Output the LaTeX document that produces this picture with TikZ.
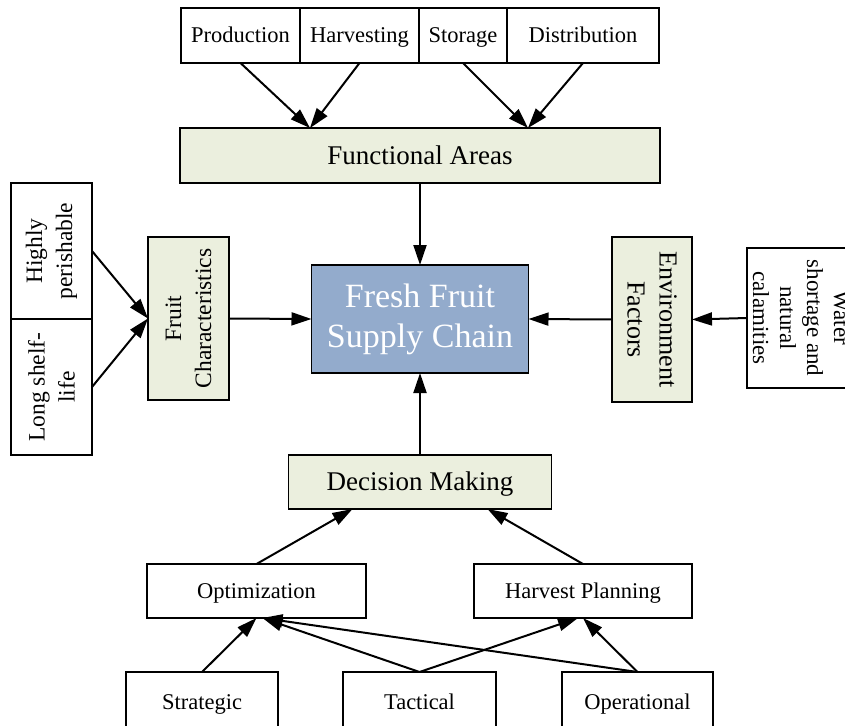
\documentclass[tikz,border=0pt]{standalone}
\usepackage{fontspec}
\setmainfont{Liberation Serif}
\usepackage{xcolor}
\usepackage{tikz}
\usetikzlibrary{positioning,shapes,arrows,arrows.meta}
\definecolor{areagreen}{RGB}{235,239,222}
\definecolor{chainblue}{RGB}{147,171,204}
\tikzset{
    box/.style={
        rectangle,
        draw=black,
        line width=1.5pt,
        outer sep=0pt,
        inner sep=2pt,
        align=center,
        font=\fontsize{22.5}{27}\selectfont
    },
    oneline/.style={
        text height=17pt,
        text depth=2pt
    },
    area/.style={
        box,
        fill=areagreen
    },
    arrow/.style={
        -{Triangle[length=20pt,width=13pt]},
        line width=2pt
    }
}

\begin{document}
\begin{tikzpicture}[x=1pt,y=-1pt]
          \useasboundingbox (0,0) rectangle (845,725);
          \clip (0,0) rectangle (845,725);
          % top row
          \node (prod) [box, oneline, minimum width=119pt, minimum height=55pt] at (240.5,35.5) {Production};
          \node (harv) [box, oneline, minimum width=119pt, minimum height=55pt, right=0pt of prod] {Harvesting};
          \node (stor) [box, oneline, minimum width=88pt, minimum height=55pt, right=0pt of harv] {Storage};
          \node (dist) [box, oneline, minimum width=152pt, minimum height=55pt, right=0pt of stor] {Distribution};
          \node (func) [area, minimum width=480pt, minimum height=55pt, font=\fontsize{27}{32}\selectfont, text height=20pt, text depth=3pt] at (420,155.5) {Functional Areas};
          % centre
          \node (fresh) [box, fill=chainblue, text=white, minimum width=217pt, minimum height=108pt, font=\fontsize{34}{40}\selectfont] at (420,319) {Fresh Fruit\\Supply Chain};
          % left side (rotate=90: south is on the right)
          \node (hp) [box, rotate=90, minimum width=136pt, minimum height=81pt, font=\fontsize{23.5}{30}\selectfont] at (51.5,251) {Highly\\perishable};
          \node (lsl) [box, rotate=90, minimum width=136pt, minimum height=81pt, font=\fontsize{23.5}{30}\selectfont] at (51.5,387) {Long shelf-\\life};
          \node (fruit) [area, rotate=90, minimum width=163pt, minimum height=81pt, font=\fontsize{23.5}{30}\selectfont] at (188.5,318.5) {Fruit\\Characteristics};
          % right side (rotate=-90: south is on the left)
          \node (env) [area, rotate=-90, minimum width=165pt, minimum height=80pt, font=\fontsize{26}{32}\selectfont] at (652,319.5) {Environment\\Factors};
          \node (water) [box, rotate=-90, minimum width=140pt, minimum height=108pt, font=\fontsize{23}{27}\selectfont] at (801,318) {Water\\shortage and\\natural\\calamities};
          % bottom
          \node (dec) [area, minimum width=263pt, minimum height=54pt, font=\fontsize{27}{32}\selectfont, text height=20pt, text depth=3pt] at (420,482) {Decision Making};
          \node (opt) [box, oneline, minimum width=219pt, minimum height=54pt] at (256.5,591) {Optimization};
          \node (hpl) [box, oneline, minimum width=218pt, minimum height=54pt] at (583,591) {Harvest Planning};
          \node (strat) [box, oneline, minimum width=152pt, minimum height=60pt] at (202,702) {Strategic};
          \node (tact) [box, oneline, minimum width=153pt, minimum height=60pt] at (419.5,702) {Tactical};
          \node (oper) [box, oneline, minimum width=151pt, minimum height=60pt] at (637.5,702) {Operational};

          \draw [arrow] (prod.south) -- ([xshift=-110pt]func.north);
          \draw [arrow] (harv.south) -- ([xshift=-110pt]func.north);
          \draw [arrow] (stor.south) -- ([xshift=108pt]func.north);
          \draw [arrow] (dist.south) -- ([xshift=108pt]func.north);
          \draw [arrow] (func.south) -- (fresh.north);
          \draw [arrow] (hp.south) -- (fruit.north);
          \draw [arrow] (lsl.south) -- (fruit.north);
          \draw [arrow] (fruit.south) -- (fresh.west);
          \draw [arrow] (water.south) -- (env.north);
          \draw [arrow] (env.south) -- (fresh.east);
          \draw [arrow] (dec.north) -- (fresh.south);
          \draw [arrow] (opt.north) -- ([xshift=-67.5pt]dec.south);
          \draw [arrow] (hpl.north) -- ([xshift=67.5pt]dec.south);
          \draw [arrow] (strat.north) -- (opt.south);
          \draw [arrow] (tact.north) -- ([xshift=6pt]opt.south);
          \draw [arrow] (oper.north) -- ([xshift=6pt]opt.south);
          \draw [arrow] (tact.north) -- ([xshift=-5pt]hpl.south);
          \draw [arrow] (oper.north) -- (hpl.south);
        \end{tikzpicture}
\end{document}
